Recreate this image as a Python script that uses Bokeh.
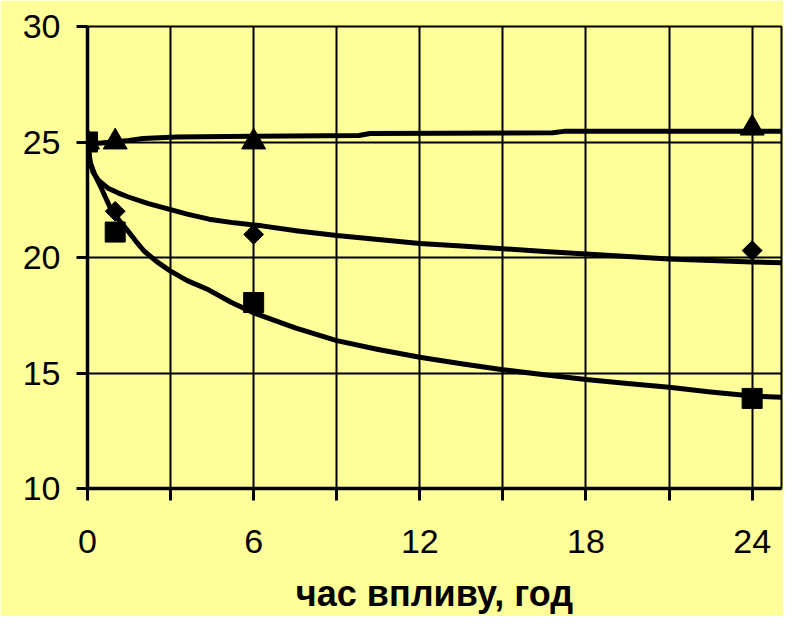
from bokeh.plotting import figure
from bokeh.models import FixedTicker
from bokeh.embed import file_html
from bokeh.resources import INLINE

# ---- data ----
hours = [0, 1, 6, 24]
tri_vals = [25.0, 25.0, 25.0, 25.6]
dia_vals = [25.0, 22.0, 21.0, 20.3]
sq_vals = [25.0, 21.1, 18.05, 13.9]

upper_t = [0, 0.4, 1.5, 2.0, 3.2, 6.0, 9.8, 10.2, 16.8, 17.2, 25.06]
upper_v = [25.0, 24.95, 25.07, 25.15, 25.22, 25.25, 25.28, 25.37, 25.4, 25.46, 25.46]

mid_t = [0, 0.1, 0.2, 0.39, 0.74, 1.1, 1.45, 2.2, 2.97, 3.6, 4.39, 5.3, 6.3, 7.6, 9.0,
         10.5, 12.0, 13.5, 15.0, 16.5, 18.0, 19.5, 21.0, 22.5, 24.0, 25.06]
mid_v = [25.0, 24.1, 23.7, 23.35, 23.0, 22.8, 22.63, 22.33, 22.08, 21.88, 21.66, 21.5, 21.37,
         21.15, 20.95, 20.78, 20.61, 20.5, 20.38, 20.26, 20.15, 20.04, 19.94, 19.87, 19.81, 19.77]

low_t = [0, 0.1, 0.27, 0.5, 0.85, 1.15, 1.45, 1.75, 2.05, 2.5, 2.97, 3.6, 4.39, 5.2, 6.05,
         7.5, 9.0, 10.5, 12.0, 13.5, 15.0, 16.5, 18.0, 19.5, 21.0, 22.5, 24.0, 25.06]
low_v = [25.0, 24.1, 23.56, 23.0, 22.08, 21.6, 21.16, 20.7, 20.27, 19.82, 19.43, 19.0, 18.59,
         18.05, 17.58, 16.95, 16.4, 16.02, 15.68, 15.4, 15.14, 14.92, 14.72, 14.55, 14.38,
         14.18, 14.0, 13.95]

x_major = [0, 6, 12, 18, 24]
x_minor = [3, 9, 15, 21]
y_major = [10, 15, 20, 25, 30]
x_title = "час впливу, год"

BG = "#FFFF99"
FONT = "Liberation Sans"

p = figure(width=783, height=616, x_range=(0, 25.06), y_range=(10, 30),
           output_backend="svg", toolbar_location=None,
           min_border_left=87, min_border_right=2, min_border_top=26,
           min_border_bottom=127)
p.background_fill_color = BG
p.border_fill_color = BG
p.outline_line_color = "black"
p.outline_line_width = 2

p.xaxis.ticker = FixedTicker(ticks=x_major, minor_ticks=x_minor)
p.yaxis.ticker = FixedTicker(ticks=y_major)

for ax in (p.xaxis, p.yaxis):
    ax.axis_line_width = 3.5
    ax.axis_line_color = "black"
    ax.major_tick_line_width = 3
    ax.major_tick_line_color = "black"
    ax.major_tick_in = 0
    ax.major_label_text_font = FONT
    ax.major_label_text_font_size = "34px"
    ax.major_label_text_color = "black"

p.xaxis.major_tick_out = 12
p.xaxis.minor_tick_out = 12
p.xaxis.minor_tick_in = 0
p.xaxis.minor_tick_line_width = 3
p.xaxis.minor_tick_line_color = "black"
p.xaxis.major_label_standoff = 29
p.yaxis.major_tick_out = 11
p.yaxis.minor_tick_line_color = None
p.yaxis.major_label_standoff = 16

p.xaxis.axis_label = x_title
p.xaxis.axis_label_text_font = FONT
p.xaxis.axis_label_text_font_style = "bold"
p.xaxis.axis_label_text_font_size = "36px"
p.xaxis.axis_label_text_color = "black"
p.xaxis.axis_label_standoff = 17

p.xgrid.grid_line_color = "black"
p.xgrid.grid_line_width = 2
p.xgrid.minor_grid_line_color = "black"
p.xgrid.minor_grid_line_width = 2
p.ygrid.grid_line_color = "black"
p.ygrid.grid_line_width = 2

lw = 5
p.line(upper_t, upper_v, line_color="black", line_width=lw, line_join="round")
p.line(mid_t, mid_v, line_color="black", line_width=lw, line_join="round")
p.line(low_t, low_v, line_color="black", line_width=lw, line_join="round")

p.scatter(hours, tri_vals, marker="triangle", size=24, color="black")
p.scatter(hours, dia_vals, marker="square", size=14, angle=0.785398, color="black")
p.scatter(hours, sq_vals, marker="square", size=20, color="black")

open("out.html", "w").write(file_html(p, INLINE))
